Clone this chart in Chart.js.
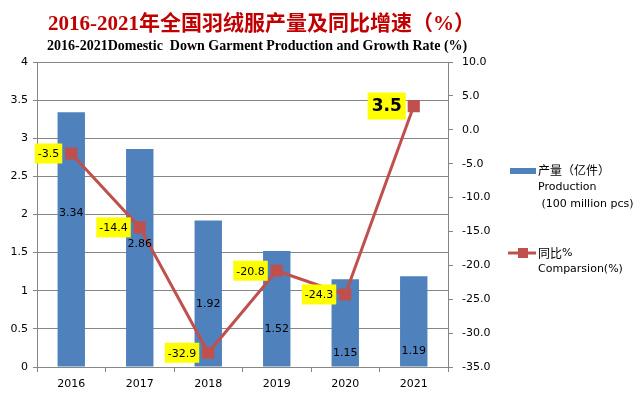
<!DOCTYPE html>
<html>
<head>
<meta charset="utf-8">
<script src="https://cdn.jsdelivr.net/npm/chart.js@4/dist/chart.umd.min.js"></script>
<style>
  html, body { margin: 0; padding: 0; background: #fff; }
  #wrap { position: relative; width: 642px; height: 399px; }
  #title {
    position: absolute; left: 48px; top: 6px; white-space: nowrap;
    font: bold 21px "Liberation Serif", "Noto Sans CJK SC", serif; color: #C00000;
  }
  #subtitle {
    position: absolute; left: 47px; top: 38px; white-space: nowrap;
    font: bold 14px "Liberation Serif", serif; color: #000;
  }
</style>
</head>
<body>
<div id="wrap">
  <canvas id="chart" width="642" height="399"></canvas>
  <div id="title">2016-2021年全国羽绒服产量及同比增速（%）</div>
  <div id="subtitle">2016-2021Domestic&nbsp; Down Garment Production and Growth Rate (%)</div>
</div>
<script>
document.addEventListener("DOMContentLoaded", () => {
  // chart data
  const years = ["2016", "2017", "2018", "2019", "2020", "2021"];
  const production = [3.34, 2.86, 1.92, 1.52, 1.15, 1.19];
  const growth = [-3.5, -14.4, -32.9, -20.8, -24.3, 3.5];

  const barColor = "#4F81BD";
  const lineColor = "#C0504D";
  const tickFont = { family: "DejaVu Sans", size: 11 };

  // value labels on bars and line points
  const labelPlugin = {
    id: "valueLabels",
    afterDatasetsDraw(chart) {
      const ctx = chart.ctx;
      ctx.save();
      ctx.textBaseline = "middle";

      // bar labels
      chart.getDatasetMeta(0).data.forEach((bar, i) => {
        const h = bar.base - bar.y;
        ctx.font = "11px DejaVu Sans";
        ctx.fillStyle = "#000";
        ctx.textAlign = "center";
        ctx.fillText(production[i].toFixed(2), bar.x, bar.y + 60 + h * 0.16);
      });

      // line labels (yellow boxes to the left of each point)
      const last = growth.length - 1;
      chart.getDatasetMeta(1).data.forEach((pt, i) => {
        const big = i === last;
        const txt = growth[i].toFixed(1);
        ctx.font = big ? "bold 17px DejaVu Sans" : "11px DejaVu Sans";
        const w = ctx.measureText(txt).width + (big ? 8 : 6);
        const hh = big ? 27 : 20;
        const right = pt.x - (big ? 8 : 9);
        ctx.fillStyle = "#FFFF00";
        ctx.fillRect(right - w, pt.y - hh / 2, w, hh);
        ctx.fillStyle = "#000";
        ctx.textAlign = "center";
        ctx.fillText(txt, right - w / 2, pt.y + 1);
      });
      ctx.restore();
    },
  };

  // legend drawn at the right
  const legendPlugin = {
    id: "sideLegend",
    afterDraw(chart) {
      const ctx = chart.ctx;
      ctx.save();
      ctx.textBaseline = "middle";
      ctx.textAlign = "left";
      ctx.fillStyle = barColor;
      ctx.fillRect(510, 168, 26, 6);
      ctx.fillStyle = "#000";
      ctx.font = "12px 'Noto Sans CJK SC'";
      ctx.fillText("产量（亿件）", 538, 170);
      ctx.font = "11px DejaVu Sans";
      ctx.fillText("Production", 538, 187);
      ctx.fillText(" (100 million pcs)", 538, 204);

      ctx.strokeStyle = lineColor;
      ctx.lineWidth = 3;
      ctx.beginPath();
      ctx.moveTo(508, 253);
      ctx.lineTo(536, 253);
      ctx.stroke();
      ctx.fillStyle = lineColor;
      ctx.fillRect(518, 248, 10, 10);
      ctx.fillStyle = "#000";
      ctx.font = "12px 'Noto Sans CJK SC'";
      ctx.fillText("同比", 538, 253);
      ctx.font = "11px DejaVu Sans";
      ctx.fillText("%", 562, 253);
      ctx.fillText("Comparsion(%)", 538, 269);
      ctx.restore();
    },
  };

  const ctx = document.getElementById("chart").getContext("2d");
  new Chart(ctx, {
    type: "bar",
    data: {
      labels: years,
      datasets: [
        {
          type: "bar",
          label: "产量（亿件）",
          data: production,
          backgroundColor: barColor,
          yAxisID: "y",
          barPercentage: 0.4,
          categoryPercentage: 1,
          order: 2,
        },
        {
          type: "line",
          label: "同比%",
          data: growth,
          borderColor: lineColor,
          backgroundColor: lineColor,
          borderWidth: 3,
          pointStyle: "rect",
          pointRadius: 6.5,
          pointHoverRadius: 6.5,
          tension: 0,
          yAxisID: "y1",
          order: 1,
        },
      ],
    },
    options: {
      responsive: false,
      animation: false,
      layout: { padding: { top: 62, left: 0, right: 0, bottom: 0 } },
      plugins: {
        legend: { display: false },
        tooltip: { enabled: false },
      },
      scales: {
        x: {
          grid: { drawOnChartArea: false, drawTicks: true, tickLength: 5, color: "#868686", offset: true },
          border: { color: "#868686" },
          ticks: { font: tickFont, color: "#000", padding: 6 },
          afterFit: (s) => { s.height = 32; },
        },
        y: {
          position: "left",
          min: 0,
          max: 4,
          ticks: {
            stepSize: 0.5, font: tickFont, color: "#000", padding: 5,
            callback: (v) => String(v),
          },
          grid: { color: "#868686", tickLength: 4 },
          border: { color: "#868686" },
          afterFit: (s) => { s.width = 37; },
        },
        y1: {
          position: "right",
          min: -35,
          max: 10,
          ticks: {
            stepSize: 5, font: tickFont, color: "#000", padding: 9,
            callback: (v) => Number(v).toFixed(1),
          },
          grid: { drawOnChartArea: false, color: "#868686", tickLength: 5 },
          border: { color: "#868686" },
          afterFit: (s) => { s.width = 194; },
        },
      },
    },
    plugins: [labelPlugin, legendPlugin],
  });
});
</script>
</body>
</html>
